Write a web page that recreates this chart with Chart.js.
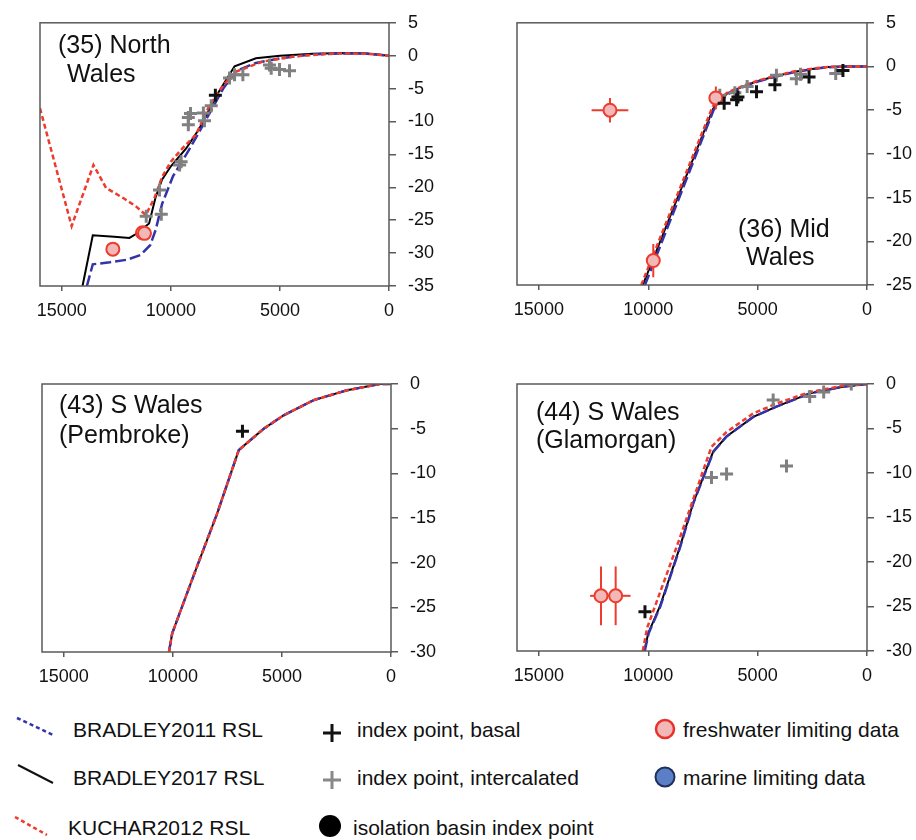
<!DOCTYPE html>
<html>
<head>
<meta charset="utf-8">
<script src="https://cdn.jsdelivr.net/npm/chart.js@4.4.1/dist/chart.umd.min.js"></script>
<style>
  body { margin: 0; background: #fff; width: 916px; height: 840px; position: relative; overflow: hidden;
         font-family: "Liberation Sans", Arial, sans-serif; }
  .panel { position: absolute; }
  #key { position: absolute; left: 0; top: 700px; }
</style>
</head>
<body>
<div class="panel" style="left:0;top:0"><canvas id="c35" width="460" height="340"></canvas></div>
<div class="panel" style="left:460px;top:0"><canvas id="c36" width="456" height="340"></canvas></div>
<div class="panel" style="left:0;top:360px"><canvas id="c43" width="460" height="340"></canvas></div>
<div class="panel" style="left:460px;top:360px"><canvas id="c44" width="456" height="340"></canvas></div>

<svg id="key" width="916" height="140" font-family="Liberation Sans, Arial, sans-serif" font-size="21" fill="#111">
  <line x1="17" y1="18" x2="53" y2="35" stroke="#3434a8" stroke-width="2.5" stroke-dasharray="4 3"/>
  <text x="73" y="37">BRADLEY2011 RSL</text>
  <line x1="18" y1="65" x2="53" y2="83" stroke="#111" stroke-width="2"/>
  <text x="73" y="85">BRADLEY2017 RSL</text>
  <line x1="15" y1="117" x2="47" y2="135" stroke="#ee3b2e" stroke-width="2.5" stroke-dasharray="4 3"/>
  <text x="68" y="135">KUCHAR2012 RSL</text>

  <path d="M323 33 h18 M332 24 v18" stroke="#111" stroke-width="3"/>
  <text x="357" y="37">index point, basal</text>
  <path d="M323 80 h18 M332 71 v18" stroke="#888" stroke-width="3"/>
  <text x="357" y="85">index point, intercalated</text>
  <circle cx="330" cy="126" r="11" fill="#000"/>
  <text x="353" y="135">isolation basin index point</text>

  <circle cx="665" cy="29" r="9" fill="#f2b8b8" stroke="#e8312a" stroke-width="2.5"/>
  <text x="683" y="37">freshwater limiting data</text>
  <circle cx="665" cy="77" r="9.5" fill="#5a7fc6" stroke="#1f2f5a" stroke-width="2"/>
  <text x="683" y="85">marine limiting data</text>
</svg>

<script>
// shared x ticks (cal yr BP, plotted right to left)
const xTicks = [15000, 10000, 5000, 0];

// (35) North Wales
const nwYTicks = [5, 0, -5, -10, -15, -20, -25, -30, -35];
const nwB11 = [[13850,-35],[13580,-31.7],[12800,-31.4],[12000,-31.0],[11400,-30.3],[10950,-28.8],[10700,-26.5],[10400,-22.5],[9900,-18.3],[9150,-14.2],[8400,-9.8],[7600,-5.0],[7000,-2.3],[6100,-1.1],[5000,-0.4],[3500,0.2],[2000,0.35],[1000,0.3],[0,0]];
const nwB17 = [[14050,-35],[13580,-27.3],[12600,-27.5],[11900,-27.7],[11600,-27.1],[11000,-25.5],[10700,-21.5],[10400,-18.8],[10000,-16.8],[9300,-14.1],[8700,-11.1],[7900,-6.0],[7080,-1.6],[6100,-0.4],[5000,0],[3500,0.3],[2000,0.4],[1000,0.35],[0,0]];
const nwK12 = [[16000,-8.0],[14550,-25.9],[13550,-16.6],[12970,-20.1],[12200,-21.6],[11600,-22.9],[11150,-24.2],[10750,-21.6],[10400,-18.4],[10000,-16.1],[9450,-14.0],[8850,-12.0],[8250,-7.7],[7600,-4.5],[7000,-2.4],[5800,-0.9],[4300,-0.1],[2500,0.35],[1000,0.3],[0,0]];
const nwBasal = [[7960,-6.0]];
const nwInter = [[11130,-24.4],[10440,-24.1],[10520,-20.4],[9600,-16.6],[9530,-16.1],[9200,-9.4],[9200,-10.5],[9100,-8.8],[8510,-8.7],[8460,-9.9],[8150,-7.6],[7310,-3.4],[7080,-2.9],[6700,-2.9],[5480,-1.4],[5400,-1.9],[5020,-2.1],[4560,-2.3]];
const nwFresh = [[12660,-29.4],[11300,-26.9],[11210,-27.0]];
const nwFreshErr = [[0,0],[0,0],[0,0]];

// (36) Mid Wales
const mwYTicks = [5, 0, -5, -10, -15, -20, -25];
const mwB11 = [[10150,-25],[7000,-4.9],[6400,-3.2],[5500,-2.15],[4900,-1.65],[4000,-1.05],[3300,-0.62],[2500,-0.3],[1800,-0.08],[1000,0],[0,0]];
const mwB17 = [[10250,-25],[7030,-4.8],[6400,-3.1],[5500,-2.1],[4900,-1.6],[4000,-1.0],[3300,-0.6],[2500,-0.28],[1800,-0.07],[1000,0],[0,0]];
const mwK12 = [[10320,-25],[7060,-4.6],[6400,-3.0],[5500,-2.05],[4900,-1.55],[4000,-0.95],[3300,-0.55],[2500,-0.25],[1800,-0.05],[1000,0],[0,0]];
const mwBasal = [[6530,-4.2],[5960,-3.8],[5900,-3.5],[5050,-2.9],[4210,-2.1],[2650,-1.2],[1100,-0.45]];
const mwInter = [[6730,-3.3],[6040,-3.0],[5480,-2.3],[4140,-1.0],[3230,-1.4],[3040,-0.9],[1430,-0.8]];
const mwFresh = [[11750,-5.0],[6910,-3.6],[9770,-22.2]];
const mwFreshErr = [[840,1.4],[150,1.3],[120,1.9]];

// (43) S Wales (Pembroke) - the three models coincide here
const pbYTicks = [0, -5, -10, -15, -20, -25, -30];
const pbRsl = [[10180,-30],[10030,-27.9],[8890,-20.4],[7970,-14.5],[6980,-7.4],[5830,-5.0],[4920,-3.5],[3540,-1.8],[2020,-0.7],[500,0],[0,0]];
const pbBasal = [[6810,-5.3]];

// (44) S Wales (Glamorgan)
const gmYTicks = [0, -5, -10, -15, -20, -25, -30];
const gmB17 = [[10180,-30],[10000,-28],[9470,-25],[8550,-18.3],[7950,-13.4],[7030,-7.6],[6420,-5.9],[5200,-3.7],[4140,-2.55],[2620,-1.05],[1100,-0.3],[0,0]];
const gmB11 = [[10160,-30],[9980,-28],[9450,-25],[8540,-18.3],[7940,-13.4],[7020,-7.6],[6420,-5.9],[5200,-3.7],[4140,-2.55],[2620,-1.05],[1100,-0.3],[0,0]];
const gmK12 = [[10250,-30],[10050,-27.4],[8600,-17.6],[7110,-7.05],[6420,-5.4],[5200,-3.3],[4140,-2.2],[2620,-0.9],[1100,-0.2],[0,0]];
const gmBasal = [[10150,-25.6]];
const gmInter = [[4290,-1.8],[2620,-1.4],[1980,-0.9],[720,0],[7110,-10.5],[6420,-10.1],[3680,-9.2]];
const gmFresh = [[12160,-23.8],[11490,-23.8]];
const gmFreshErr = [[500,3.3],[680,3.3]];

const FONT = '"Liberation Sans", Arial, sans-serif';
const RED = '#ee3b2e';
const BLUE = '#3434a8';

const xy = arr => arr.map(p => ({ x: p[0], y: p[1] }));

// frame around the plot area + the site label
const panelFrame = {
  id: 'panelFrame',
  afterDatasetsDraw(chart, args, opts) {
    const { ctx, chartArea: a } = chart;
    ctx.save();
    ctx.strokeStyle = '#5a5a5a';
    ctx.lineWidth = 1.5;
    ctx.strokeRect(a.left, a.top, a.right - a.left, a.bottom - a.top);
    ctx.fillStyle = '#111';
    ctx.font = '25px ' + FONT;
    ctx.textBaseline = 'alphabetic';
    (opts.lines || []).forEach(l => ctx.fillText(l.text, l.x, l.y));
    ctx.restore();
  }
};

function rslLine(data, color, width, dash, order) {
  return { data: xy(data), showLine: true, pointRadius: 0, borderColor: color,
           borderWidth: width, borderDash: dash, order: order, fill: false };
}

function makePanel(id, p) {
  const datasets = [];
  // model curves: black at the bottom, then blue, red on top
  if (p.b17) datasets.push(rslLine(p.b17, '#000', 2, [], 6));
  if (p.b11) datasets.push(rslLine(p.b11, BLUE, 2.5, [11, 4], 5));
  if (p.k12) datasets.push(rslLine(p.k12, RED, 2.5, [5, 3], 4));

  // error bars on freshwater limiting points
  (p.fresh || []).forEach((f, i) => {
    const [dx, dy] = p.freshErr[i];
    if (dx) datasets.push({ data: [{ x: f[0] - dx, y: f[1] }, { x: f[0] + dx, y: f[1] }], showLine: true,
      pointRadius: 0, borderColor: RED, borderWidth: 2, order: 2 });
    if (dy) datasets.push({ data: [{ x: f[0], y: f[1] - dy }, { x: f[0], y: f[1] + dy }], showLine: true,
      pointRadius: 0, borderColor: RED, borderWidth: 2, order: 2 });
  });
  if (p.fresh) datasets.push({ data: xy(p.fresh), pointStyle: 'circle', pointRadius: 6.5,
    borderColor: RED, borderWidth: 2, backgroundColor: '#f2b8b8', order: 1 });
  if (p.inter) datasets.push({ data: xy(p.inter), pointStyle: 'cross', pointRadius: 6.5,
    borderColor: '#808080', borderWidth: 3, order: 1 });
  if (p.basal) datasets.push({ data: xy(p.basal), pointStyle: 'cross', pointRadius: 6.5,
    borderColor: '#111', borderWidth: 3, order: 0 });

  new Chart(document.getElementById(id), {
    type: 'scatter',
    data: { datasets: datasets },
    plugins: [panelFrame],
    options: {
      responsive: false,
      animation: false,
      devicePixelRatio: 1,
      layout: { padding: { left: p.pad[0], top: p.pad[1], right: 0, bottom: 0 } },
      plugins: {
        legend: { display: false },
        tooltip: { enabled: false },
        panelFrame: { lines: p.title }
      },
      scales: {
        x: {
          type: 'linear', reverse: true, min: 0, max: 16000,
          afterBuildTicks: s => { s.ticks = xTicks.map(v => ({ value: v })); },
          afterFit: s => { s.height = p.xH; },
          grid: { drawOnChartArea: false, tickLength: 5, color: '#5a5a5a', lineWidth: 1.5 },
          border: { display: false },
          ticks: { font: { size: 18, family: FONT }, color: '#111', padding: 9,
                   maxRotation: 0, autoSkip: false, callback: v => String(v) }
        },
        y: {
          type: 'linear', position: 'right', min: p.yTicks[p.yTicks.length - 1], max: p.yTicks[0],
          afterBuildTicks: s => { s.ticks = p.yTicks.map(v => ({ value: v })); },
          afterFit: s => { s.width = p.yW; },
          grid: { drawOnChartArea: false, tickLength: 7, color: '#5a5a5a', lineWidth: 1.5 },
          border: { display: false },
          ticks: { font: { size: 18, family: FONT }, color: '#111', padding: 12,
                   autoSkip: false, callback: v => String(v) }
        }
      }
    }
  });
}

makePanel('c35', {
  pad: [40, 19], yW: 71, xH: 54, yTicks: nwYTicks,
  b11: nwB11, b17: nwB17, k12: nwK12, basal: nwBasal, inter: nwInter,
  fresh: nwFresh, freshErr: nwFreshErr,
  title: [{ text: '(35) North', x: 58, y: 53 }, { text: 'Wales', x: 67, y: 82 }]
});

makePanel('c36', {
  pad: [57, 19], yW: 49, xH: 55, yTicks: mwYTicks,
  b11: mwB11, b17: mwB17, k12: mwK12, basal: mwBasal, inter: mwInter,
  fresh: mwFresh, freshErr: mwFreshErr,
  title: [{ text: '(36) Mid', x: 278, y: 237 }, { text: 'Wales', x: 286, y: 265 }]
});

makePanel('c43', {
  pad: [42, 24], yW: 69, xH: 48, yTicks: pbYTicks,
  b11: pbRsl, b17: pbRsl, k12: pbRsl, basal: pbBasal,
  title: [{ text: '(43) S Wales', x: 59, y: 53 }, { text: '(Pembroke)', x: 59, y: 83 }]
});

makePanel('c44', {
  pad: [57, 24], yW: 49, xH: 49, yTicks: gmYTicks,
  b11: gmB11, b17: gmB17, k12: gmK12, basal: gmBasal, inter: gmInter,
  fresh: gmFresh, freshErr: gmFreshErr,
  title: [{ text: '(44) S Wales', x: 76, y: 60 }, { text: '(Glamorgan)', x: 76, y: 88 }]
});
</script>
</body>
</html>
